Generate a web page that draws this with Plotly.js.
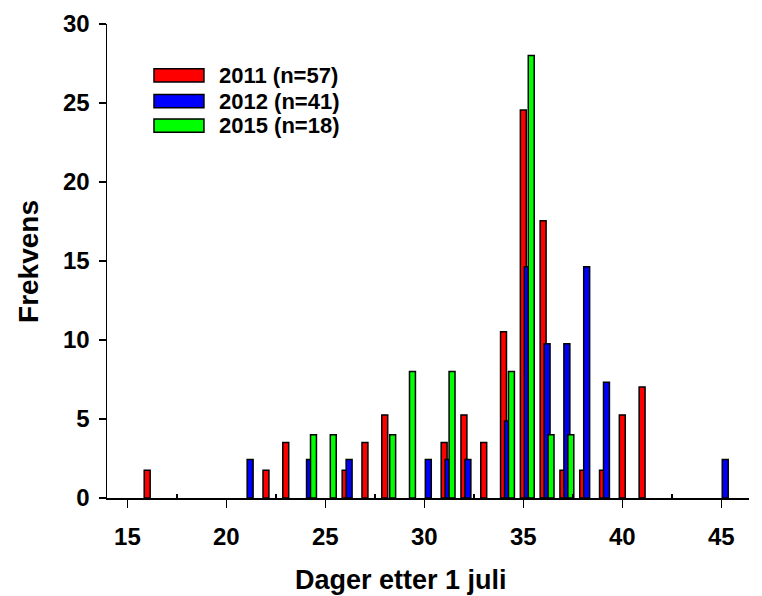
<!DOCTYPE html>
<html>
<head>
<meta charset="utf-8">
<script src="https://cdn.plot.ly/plotly-3.0.1.min.js"></script>
<style>html,body{margin:0;padding:0;background:#fff;}#chart{width:762px;height:596px;}</style>
</head>
<body>
<div id="chart"></div>
<script>
// Days after 1 July and frequency (%) per year
const days2011 = [16, 22, 23, 26, 27, 28, 31, 32, 33, 34, 35, 36, 37, 38, 39, 40, 41];
const freq2011 = [1.75, 1.75, 3.51, 1.75, 3.51, 5.26, 3.51, 5.26, 3.51, 10.53, 24.56, 17.54, 1.75, 1.75, 1.75, 5.26, 7.02];
const days2012 = [21, 24, 26, 30, 31, 32, 34, 35, 36, 37, 38, 39, 45];
const freq2012 = [2.44, 2.44, 2.44, 2.44, 2.44, 2.44, 4.88, 14.63, 9.76, 9.76, 14.63, 7.32, 2.44];
const days2015 = [24, 25, 28, 29, 31, 34, 35, 36, 37];
const freq2015 = [4, 4, 4, 8, 8, 8, 28, 4, 4];
const seriesNames = ['2011 (n=57)', '2012 (n=41)', '2015 (n=18)'];
const seriesColors = ['#ff0000', '#0000ff', '#00ff00'];
const xTickVals = [15, 20, 25, 30, 35, 40, 45];
const yTickVals = [0, 5, 10, 15, 20, 25, 30];

const FONT = 'Arial, "Liberation Sans", Helvetica, sans-serif';
const barW = 0.3;
const offsets = [-0.15, 0.05, 0.25];
const xs = [days2011, days2012, days2015];
const ys = [freq2011, freq2012, freq2015];

const traces = xs.map((x, i) => ({
  type: 'bar', x: x, y: ys[i], name: seriesNames[i],
  width: barW, offset: offsets[i],
  marker: {color: seriesColors[i], line: {color: '#000', width: 1.5}},
  showlegend: false
}));

// custom legend (wide swatches like the original)
const legTop = [0.9057, 0.8514, 0.7996];
const legH = 0.0281;
const shapes = seriesNames.map((n, i) => ({
  type: 'rect', xref: 'paper', yref: 'paper',
  x0: 0.0732, x1: 0.151, y0: legTop[i] - legH, y1: legTop[i],
  fillcolor: seriesColors[i], line: {color: '#000', width: 1.5}
}));
const annotations = seriesNames.map((n, i) => ({
  xref: 'paper', yref: 'paper', x: 0.171, y: legTop[i] - legH / 2,
  xanchor: 'left', yanchor: 'middle', showarrow: false,
  text: '<b>' + n + '</b>', font: {family: FONT, size: 22, color: '#000'}
}));
annotations.push({
  xref: 'paper', yref: 'paper', x: (401 - 107) / 642, y: -(580 - 498.3) / 474,
  xanchor: 'center', yanchor: 'middle', showarrow: false,
  text: '<b>Dager etter 1 juli</b>', font: {family: FONT, size: 27, color: '#000'}
});
annotations.push({
  xref: 'paper', yref: 'paper', x: -(107 - 29) / 642, y: 0.498,
  xanchor: 'center', yanchor: 'middle', showarrow: false, textangle: -90,
  text: '<b>Frekvens</b>', font: {family: FONT, size: 28, color: '#000'}
});

const layout = {
  width: 762, height: 596,
  margin: {l: 107, r: 13, t: 24, b: 98, pad: 0},
  paper_bgcolor: '#fff', plot_bgcolor: '#fff',
  barmode: 'overlay',
  font: {family: FONT, color: '#000'},
  xaxis: {
    range: [13.97, 46.4], tickvals: xTickVals, ticktext: xTickVals.map(v => '<b>' + v + '</b>'),
    ticks: 'outside', ticklen: 8, tickwidth: 1.5, tickcolor: '#000',
    ticklabelstandoff: 8,
    showline: true, linecolor: '#000', linewidth: 2, showgrid: false, zeroline: false,
    tickfont: {family: FONT, size: 24, color: '#000'},
    minor: {tickvals: [17.5, 22.5, 27.5, 32.5, 37.5, 42.5], ticks: 'inside', ticklen: 4, tickwidth: 1.5, tickcolor: '#000', showgrid: false},
    fixedrange: true
  },
  yaxis: {
    range: [0, 30], tickvals: yTickVals, ticktext: yTickVals.map(v => '<b>' + v + '</b>'),
    ticks: 'outside', ticklen: 7, tickwidth: 1.5, tickcolor: '#000',
    ticklabelstandoff: 4,
    showline: true, linecolor: '#000', linewidth: 1.5, showgrid: false, zeroline: false,
    tickfont: {family: FONT, size: 24, color: '#000'},
    fixedrange: true
  },
  shapes: shapes,
  annotations: annotations
};

Plotly.newPlot('chart', traces, layout, {displayModeBar: false, staticPlot: true});
</script>
</body>
</html>
